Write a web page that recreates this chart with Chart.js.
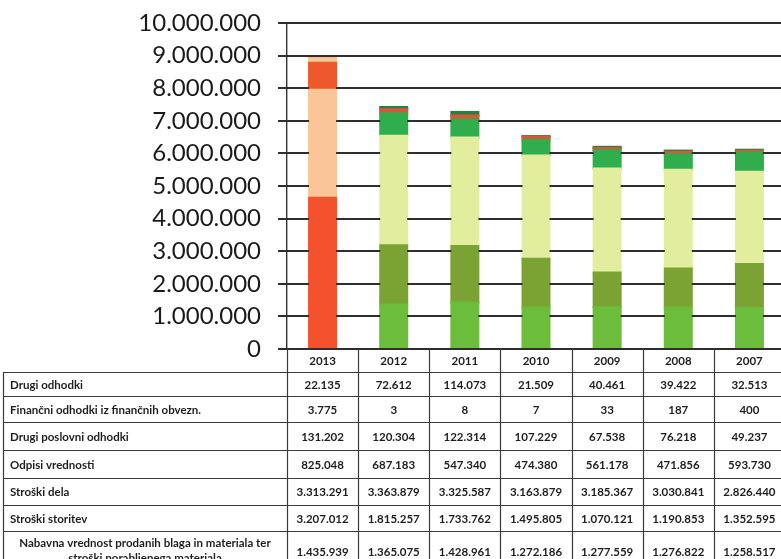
<!DOCTYPE html>
<html>
<head>
<meta charset="utf-8">
<script src="https://cdn.jsdelivr.net/npm/chart.js@4.4.1/dist/chart.umd.min.js"></script>
<style>
html, body { margin: 0; padding: 0; overflow: hidden; background: #fff; }
canvas { display: block; }
</style>
</head>
<body>
<canvas id="odhodkiChart" width="790" height="559"></canvas>
<script>
// leta (stolpci)
var leta = ['2013', '2012', '2011', '2010', '2009', '2008', '2007'];

// odhodki po letih, od spodaj navzgor
var nabavna       = [1435939, 1365075, 1428961, 1272186, 1277559, 1276822, 1258517];
var storitve      = [3207012, 1815257, 1733762, 1495805, 1070121, 1190853, 1352595];
var strosDela     = [3313291, 3363879, 3325587, 3163879, 3185367, 3030841, 2826440];
var odpisi        = [825048, 687183, 547340, 474380, 561178, 471856, 593730];
var drugiPoslovni = [131202, 120304, 122314, 107229, 67538, 76218, 49237];
var financni      = [3775, 3, 8, 7, 33, 187, 400];
var drugiOdhodki  = [22135, 72612, 114073, 21509, 40461, 39422, 32513];

// y os
var yMax = 10000000;
var yKorak = 1000000;

// 2013 rdeče, ostala leta zelena
function barve(prvo, ostala) {
    var arr = [prvo];
    for (var i = 1; i < leta.length; i++) arr.push(ostala);
    return arr;
}

// 1234567 -> 1.234.567
function fmt(n) {
    return String(n).replace(/\B(?=(\d{3})+(?!\d))/g, '.');
}

// vrstice tabele pod grafom (od zgoraj navzdol)
var vrsticeTabele = [
    { naziv: ['Drugi odhodki'], podatki: drugiOdhodki },
    { naziv: ['Finančni odhodki iz finančnih obvezn.'], podatki: financni },
    { naziv: ['Drugi poslovni odhodki'], podatki: drugiPoslovni },
    { naziv: ['Odpisi vrednosti'], podatki: odpisi },
    { naziv: ['Stroški dela'], podatki: strosDela },
    { naziv: ['Stroški storitev'], podatki: storitve },
    { naziv: ['Nabavna vrednost prodanih blaga in materiala ter', 'stroški porabljenega materiala'], podatki: nabavna }
];

// višine vrstic: glava + vrstice
var visinaGlave = 23;
var visineVrstic = [24, 26, 28, 28, 27, 26, 40];

// vodoravne črte mreže in oznake ob y osi; stolpce obidemo, da ostanejo črte za njimi
var mreza = {
    id: 'mreza',
    afterDraw: function(chart) {
        var ctx = chart.ctx,
            area = chart.chartArea,
            ys = chart.scales.y;

        // obseg vsakega stolpca (vsi odseki skupaj)
        var stolpci = [];
        chart.data.datasets.forEach(function(ds, di) {
            chart.getDatasetMeta(di).data.forEach(function(el, i) {
                var s = stolpci[i] || (stolpci[i] = { l: el.x - el.width / 2, r: el.x + el.width / 2, t: Infinity, b: -Infinity });
                s.t = Math.min(s.t, el.y, el.base);
                s.b = Math.max(s.b, el.y, el.base);
            });
        });

        ctx.save();
        ctx.globalAlpha = 1;
        ctx.globalCompositeOperation = 'source-over';
        ctx.fillStyle = '#2e2e2e';
        for (var v = 0; v <= yMax; v += yKorak) {
            var y = Math.round(ys.getPixelForValue(v)),
                x = area.left - 9;
            for (var k = 0; k < stolpci.length; k++) {
                var s = stolpci[k];
                if (y > s.t && y < s.b - 1) {
                    ctx.fillRect(x, y - 1, s.l - x, 2);
                    x = s.r;
                }
            }
            ctx.fillRect(x, y - 1, area.right - x, 2);
        }
        ctx.restore();
    }
};

var tabela = {
    id: 'tabela',
    afterDraw: function(chart) {
        var ctx = chart.ctx,
            area = chart.chartArea,
            xs = chart.scales.x,
            sirina = (area.right - area.left) / leta.length,
            levo = 3;

        ctx.save();
        ctx.strokeStyle = '#3a3a3a';
        ctx.lineWidth = 1.2;
        ctx.fillStyle = '#1e1e1e';
        ctx.textBaseline = 'middle';
        ctx.font = 'bold 11.5px Lato';

        // meje vrstic
        var meje = [area.bottom, area.bottom + visinaGlave];
        for (var r = 0; r < visineVrstic.length; r++) {
            meje.push(meje[meje.length - 1] + visineVrstic[r]);
        }

        // navpične črte stolpcev
        for (var c = 0; c <= leta.length; c++) {
            var lx = Math.round(area.left + c * sirina) + 0.5;
            ctx.beginPath();
            ctx.moveTo(lx, area.bottom);
            ctx.lineTo(lx, chart.height);
            ctx.stroke();
        }
        // levi rob tabele
        ctx.beginPath();
        ctx.moveTo(levo + 0.5, meje[1]);
        ctx.lineTo(levo + 0.5, chart.height);
        ctx.stroke();

        // vodoravne črte
        for (var m = 1; m < meje.length; m++) {
            var ly = Math.round(meje[m]) + 0.5;
            ctx.beginPath();
            ctx.moveTo(levo, ly);
            ctx.lineTo(chart.width, ly);
            ctx.stroke();
        }

        // glava z leti
        ctx.textAlign = 'center';
        for (var i = 0; i < leta.length; i++) {
            ctx.fillText(leta[i], xs.getPixelForValue(i), (meje[0] + meje[1]) / 2 + 1);
        }

        // vrstice
        for (var v = 0; v < vrsticeTabele.length; v++) {
            var vr = vrsticeTabele[v],
                sredina = (meje[v + 1] + meje[v + 2]) / 2 + 1;

            if (vr.naziv.length === 1) {
                ctx.textAlign = 'left';
                ctx.fillText(vr.naziv[0], 10, sredina);
            } else {
                ctx.textAlign = 'center';
                ctx.fillText(vr.naziv[0], (levo + area.left) / 2, sredina - 9);
                ctx.fillText(vr.naziv[1], (levo + area.left) / 2, sredina + 6);
            }

            ctx.textAlign = 'center';
            for (var j = 0; j < leta.length; j++) {
                ctx.fillText(fmt(vr.podatki[j]), xs.getPixelForValue(j), sredina);
            }
        }
        ctx.restore();
    }
};

var ctx = document.getElementById('odhodkiChart').getContext('2d');

var data = {
    labels: leta,
    datasets: [
        { label: 'Nabavna vrednost', data: nabavna, backgroundColor: barve('#f4512f', '#6cbd3b') },
        { label: 'Stroški storitev', data: storitve, backgroundColor: barve('#f4512f', '#7ba333') },
        { label: 'Stroški dela', data: strosDela, backgroundColor: barve('#fac598', '#e2ee9e') },
        { label: 'Odpisi vrednosti', data: odpisi, backgroundColor: barve('#ec5a2b', '#2fae4b') },
        { label: 'Drugi poslovni odhodki', data: drugiPoslovni, backgroundColor: barve('#f9c79c', '#cf5a3c') },
        { label: 'Finančni odhodki', data: financni, backgroundColor: barve('#f5a070', '#cf5a3c') },
        { label: 'Drugi odhodki', data: drugiOdhodki, backgroundColor: barve('#f8b889', '#2a7f3e') }
    ]
};

var options = {
    responsive: false,
    animation: false,
    layout: {
        padding: { top: 23, right: 5, bottom: 210, left: 0 }
    },
    plugins: {
        legend: { display: false },
        tooltip: { enabled: false }
    },
    datasets: {
        bar: { categoryPercentage: 1, barPercentage: 0.38, inflateAmount: 1 }
    },
    scales: {
        x: {
            display: false,
            stacked: true
        },
        y: {
            stacked: true,
            min: 0,
            max: yMax,
            afterFit: function(scale) {
                scale.width = 287;
                scale.paddingTop = 0;
                scale.paddingBottom = 0;
            },
            ticks: {
                stepSize: yKorak,
                padding: 17,
                color: '#1a1a1a',
                font: { family: 'Lato', size: 24 },
                callback: function(value) { return fmt(value); }
            },
            grid: {
                display: false,
                tickLength: 9
            },
            border: { color: '#333', width: 1.4 }
        }
    }
};

// graf odhodkov
new Chart(ctx, { type: 'bar', data: data, options: options, plugins: [mreza, tabela] });
</script>
</body>
</html>
